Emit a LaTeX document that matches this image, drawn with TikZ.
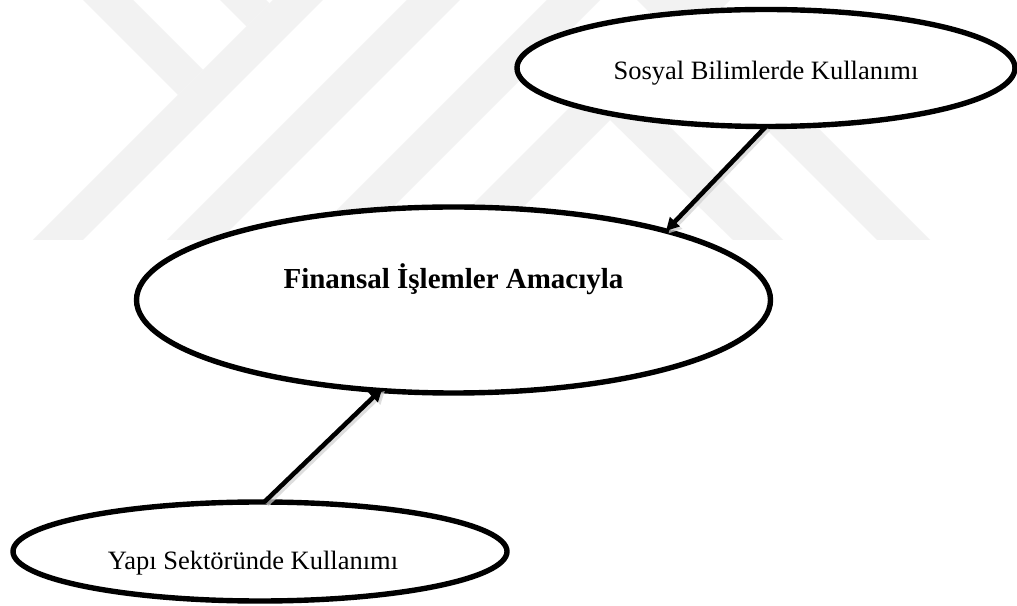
\documentclass[tikz,border=0pt]{standalone}
\usepackage{fontspec}
\setmainfont{Liberation Serif}
\usetikzlibrary{shapes.geometric,arrows.meta}
\begin{document}
\begin{tikzpicture}[x=1pt,y=1pt,
  oval/.style={ellipse, draw=black, fill=white, line width=5.4pt, inner sep=0pt, outer sep=0pt},
  lbl/.style={anchor=base, inner sep=0pt, font=\fontsize{26.5}{30}\selectfont},
  conn/.style={line width=4.6pt, -{Triangle[length=13pt,width=13pt]}},
  shadowline/.style={line width=4.6pt, draw=black!18, opacity=0.7, -{Triangle[length=13pt,width=13pt]}},
  wm/.style={fill=black!5, draw=none}]
\useasboundingbox (0,0) rectangle (1017,605);
\fill[white] (0,0) rectangle (1017,605);
% faint watermark bands
\begin{scope}[shift={(0,605)}, yscale=-1]
  \fill[wm] (83,0) -- (133,0) -- (203,70) -- (178,95) -- cycle;
  \fill[wm] (220,0) -- (266,0) -- (269.5,3.5) -- (246.5,26.5) -- cycle;
  \fill[wm] (273,0) -- (323,0) -- (83,240) -- (33,240) -- cycle;
  \fill[wm] (407,0) -- (460,0) -- (220,240) -- (167,240) -- cycle;
  \fill[wm] (547,0) -- (600,0) -- (360,240) -- (307,240) -- cycle;
  \fill[wm] (677,0) -- (730,0) -- (490,240) -- (437,240) -- cycle;
  \fill[wm] (610,120) -- (636.5,93.5) -- (783,240) -- (733,240) -- cycle;
  \fill[wm] (637,0) -- (690,0) -- (930,240) -- (877,240) -- cycle;
\end{scope}
% ellipses
\node[oval, minimum width=498pt, minimum height=117pt] (soc) at (766,537) {};
\node[oval, minimum width=634pt, minimum height=186pt] (fin) at (453.5,305) {};
\node[oval, minimum width=494pt, minimum height=99pt] (yapi) at (260,53.5) {};
% texts
\node[lbl] (socT) at (766,525) {Sosyal Bilimlerde Kullanımı};
\node[lbl, font=\bfseries\fontsize{29}{33}\selectfont] (finT) at (453.5,316) {Finansal İşlemler Amacıyla};
\node[lbl] (yapiT) at (253,35) {Yapı Sektöründe Kullanımı};
% connectors with soft shadow
\draw[shadowline, transform canvas={shift={(2.5pt,-2.5pt)}}] (soc.south) -- (fin.18);
\draw[conn] (soc.south) -- (fin.18);
\draw[shadowline, transform canvas={shift={(2.5pt,-2.5pt)}}, shorten >=-3pt] (yapi.85) -- (fin.231);
\draw[conn, shorten >=-3pt] (yapi.85) -- (fin.231);
\end{tikzpicture}
\end{document}
